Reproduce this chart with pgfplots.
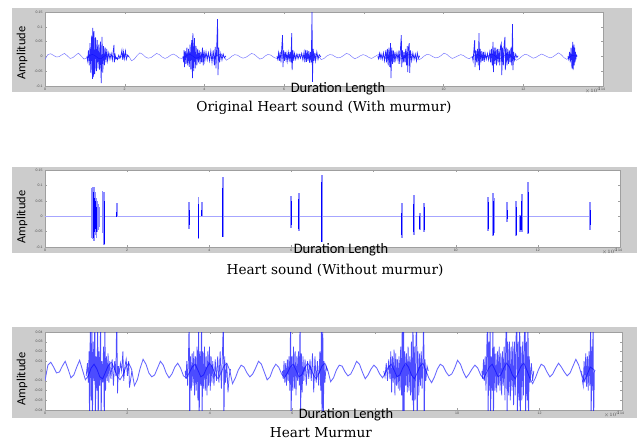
\documentclass[border=0pt]{standalone}
\usepackage{pgfplots}
\usepackage{pgfplotstable}
\pgfplotsset{compat=1.18}
\usepackage{fontspec}
\setmainfont{DejaVu Serif}
\newfontfamily\carl{Carlito}
\newfontfamily\lib{Liberation Sans}
\definecolor{figgray}{RGB}{204,204,204}

\pgfplotstableread{
x y
0.00 -0.010
0.07 0.006
0.14 0.009
0.21 0.004
0.28 -0.002
0.35 -0.001
0.42 0.005
0.49 0.010
0.56 0.002
0.63 -0.007
0.70 -0.004
0.77 0.004
0.84 0.011
0.91 0.001
0.98 -0.009
1.05 -0.005
1.12 0.003
1.19 0.007
1.26 0.002
1.33 -0.006
1.40 -0.008
1.47 -0.001
1.54 0.006
1.61 0.009
1.68 0.003
1.75 -0.005
1.82 -0.009
1.89 -0.004
1.96 0.004
2.03 0.008
2.10 0.002
2.17 -0.015
2.24 -0.009
2.31 0.003
2.38 0.012
2.45 0.007
2.52 -0.002
2.59 -0.006
2.66 -0.004
2.73 0.003
2.80 0.010
2.87 0.006
2.94 -0.002
3.01 -0.007
3.08 -0.003
3.15 0.004
3.22 0.008
3.29 0.003
3.36 -0.005
3.43 -0.007
3.50 -0.002
3.57 0.004
3.64 0.007
3.71 0.001
3.78 -0.006
3.85 -0.004
3.92 0.003
3.99 0.008
4.06 0.004
4.13 -0.004
4.20 -0.008
4.27 -0.002
4.34 0.005
4.41 0.008
4.48 0.001
4.55 -0.013
4.62 -0.007
4.69 0.001
4.76 0.006
4.83 0.004
4.90 -0.002
4.97 -0.006
5.04 -0.003
5.11 0.003
5.18 0.010
5.25 0.007
5.32 -0.001
5.39 -0.009
5.46 -0.006
5.53 0.002
5.60 0.007
5.67 0.004
5.74 -0.003
5.81 -0.007
5.88 -0.002
5.95 0.004
6.02 0.007
6.09 0.001
6.16 -0.006
6.23 -0.004
6.30 0.003
6.37 0.008
6.44 0.004
6.51 -0.004
6.58 -0.008
6.65 -0.002
6.72 0.005
6.79 0.008
6.86 0.001
6.93 -0.011
7.00 -0.007
7.07 0.001
7.14 0.006
7.21 0.005
7.28 -0.001
7.35 -0.005
7.42 -0.003
7.49 0.003
7.56 0.010
7.63 0.007
7.70 -0.001
7.77 -0.008
7.84 -0.004
7.91 0.002
7.98 0.006
8.05 0.003
8.12 -0.003
8.19 -0.007
8.26 -0.002
8.33 0.004
8.40 0.007
8.47 0.001
8.54 -0.006
8.61 -0.004
8.68 0.003
8.75 0.008
8.82 0.004
8.89 -0.004
8.96 -0.008
9.03 -0.002
9.10 0.005
9.17 0.008
9.24 0.001
9.31 -0.007
9.38 -0.012
9.45 -0.006
9.52 0.002
9.59 0.007
9.66 0.005
9.73 -0.001
9.80 -0.005
9.87 -0.003
9.94 0.003
10.01 0.011
10.08 0.007
10.15 -0.001
10.22 -0.007
10.29 -0.003
10.36 0.002
10.43 0.006
10.50 0.003
10.57 -0.004
10.64 -0.008
10.71 -0.002
10.78 0.004
10.85 0.007
10.92 0.001
10.99 -0.006
11.06 -0.004
11.13 0.003
11.20 0.008
11.27 0.004
11.34 -0.004
11.41 -0.008
11.48 -0.002
11.55 0.005
11.62 0.008
11.69 0.001
11.76 -0.007
11.83 -0.013
11.90 -0.007
11.97 0.001
12.04 0.007
12.11 0.005
12.18 -0.001
12.25 -0.006
12.32 -0.003
12.39 0.003
12.46 0.008
12.53 0.004
12.60 -0.001
12.67 -0.005
12.74 -0.002
12.81 0.005
12.88 0.012
12.95 0.006
13.02 -0.004
13.09 -0.010
13.16 -0.003
13.23 0.004
13.30 0.002
13.35 0.000
}\baseline

\pgfplotsset{
  panel/.style={
    scale only axis, anchor=north west,
    xmin=0, xmax=14, xtick={0,2,4,6,8,10,12,14},
    xticklabels={0,2,4,6,,10,12,14},
    tick align=inside, xtick pos=both, ytick pos=both,
    major tick length=2bp,
    axis line style={gray!75}, tick style={gray!75, line width=0.3pt},
    ticklabel style={font=\lib\fontsize{3.5}{4}\selectfont, text=gray!60!black},
    /pgf/number format/assume math mode=true,
    scaled y ticks=false,
    yticklabel style={/pgf/number format/fixed, /pgf/number format/precision=3, xshift=1bp},
    xticklabel style={yshift=1bp},
    axis background/.style={fill=white},
  },
  base/.style={no markers, line width=0.45pt, color=blue!55},
  burst/.style={no markers, line width=0.7pt, color=blue, opacity=0.85},
  mburst/.style={no markers, line width=0.75pt, color=blue, opacity=0.7},
  light/.style={ycomb, no markers, line width=1.6pt, color=blue!45},
  dark/.style={ycomb, no markers, line width=1.0pt, color=blue},
}

\begin{document}
\begin{tikzpicture}
\useasboundingbox (0,0) rectangle (637bp,-441bp);
\fill[figgray] (12bp,-8bp) rectangle (632bp,-92bp);
\fill[figgray] (12bp,-167bp) rectangle (637bp,-253bp);
\fill[figgray] (12bp,-327bp) rectangle (637bp,-418bp);

% ---------------- Panel 1 ----------------
\begin{axis}[panel, at={(45bp,-12bp)}, width=558bp, height=74bp,
  ymin=-0.1, ymax=0.15, ytick={-0.1,-0.05,0,0.05,0.1,0.15}]
\addplot[base] table {\baseline};
\addplot[burst] coordinates {(1.05,0.000)(1.07,-0.015)(1.09,0.020)(1.11,-0.030)(1.13,0.045)(1.15,-0.055)(1.17,0.070)(1.19,-0.076)(1.20,0.096)(1.22,-0.070)(1.23,0.085)(1.25,-0.060)(1.27,0.065)(1.29,-0.050)(1.31,0.055)(1.33,-0.040)(1.35,0.040)(1.37,-0.045)(1.39,0.050)(1.41,-0.090)(1.43,0.066)(1.45,-0.055)(1.47,0.035)(1.49,-0.030)(1.51,0.030)(1.53,-0.020)(1.55,0.025)(1.57,-0.015)(1.60,0.012)(1.63,-0.010)(1.66,0.010)(1.69,-0.012)(1.71,0.015)(1.73,0.039)(1.74,-0.020)(1.76,0.005)(1.78,-0.008)(1.80,-0.004)(1.82,-0.010)(1.85,0.004)(1.88,-0.006)(1.91,0.006)(1.93,0.021)(1.95,-0.012)(1.97,0.015)(1.99,-0.008)(2.02,0.018)(2.04,-0.010)(2.07,0.004)(2.10,-0.002)};
\addplot[burst] coordinates {(3.46,0.000)(3.48,-0.020)(3.49,0.021)(3.50,-0.036)(3.52,0.018)(3.54,-0.025)(3.56,0.030)(3.58,-0.030)(3.60,0.025)(3.62,-0.035)(3.64,0.040)(3.66,-0.045)(3.68,0.055)(3.70,-0.073)(3.71,0.079)(3.73,-0.050)(3.75,0.062)(3.77,-0.040)(3.79,0.035)(3.81,-0.030)(3.83,0.025)(3.85,-0.020)(3.87,0.020)(3.89,-0.025)(3.91,0.015)(3.93,-0.020)(3.95,0.030)(3.97,-0.030)(3.99,0.020)(4.01,-0.015)(4.04,0.015)(4.07,-0.012)(4.10,0.012)(4.13,-0.015)(4.16,0.018)(4.19,-0.020)(4.22,0.020)(4.25,-0.030)(4.27,0.032)(4.29,-0.040)(4.31,0.040)(4.33,0.126)(4.34,-0.063)(4.36,0.030)(4.38,-0.020)(4.41,0.010)(4.44,-0.012)(4.47,0.008)(4.50,-0.005)(4.54,0.002)};
\addplot[burst] coordinates {(5.82,0.000)(5.84,-0.010)(5.86,0.012)(5.88,-0.015)(5.90,0.015)(5.92,-0.020)(5.94,0.030)(5.96,0.072)(5.97,-0.036)(5.99,0.020)(6.01,-0.015)(6.03,0.015)(6.05,-0.012)(6.07,0.010)(6.09,-0.015)(6.11,0.012)(6.13,-0.010)(6.15,0.015)(6.17,-0.020)(6.19,0.079)(6.20,-0.046)(6.22,0.020)(6.24,-0.015)(6.26,0.010)(6.29,-0.010)(6.32,0.008)(6.35,-0.008)(6.38,0.006)(6.41,-0.006)(6.44,0.010)(6.47,-0.012)(6.50,0.015)(6.52,-0.020)(6.54,0.022)(6.56,-0.018)(6.58,0.020)(6.60,-0.015)(6.62,0.018)(6.64,-0.022)(6.66,0.015)(6.68,-0.020)(6.70,0.150)(6.71,-0.086)(6.73,0.025)(6.75,-0.015)(6.77,0.012)(6.79,-0.015)(6.82,0.015)(6.85,-0.010)(6.88,0.006)(6.92,-0.002)};
\addplot[burst] coordinates {(8.35,0.000)(8.37,-0.008)(8.39,0.010)(8.41,-0.006)(8.43,0.008)(8.46,-0.010)(8.49,0.012)(8.52,-0.015)(8.55,0.020)(8.57,-0.020)(8.59,0.025)(8.61,-0.030)(8.63,0.030)(8.65,-0.035)(8.67,0.045)(8.68,-0.073)(8.70,0.030)(8.72,-0.025)(8.74,0.020)(8.76,-0.020)(8.78,0.015)(8.80,-0.012)(8.83,0.012)(8.86,-0.015)(8.88,0.020)(8.90,-0.025)(8.92,0.030)(8.94,0.072)(8.95,-0.036)(8.97,0.020)(8.99,-0.020)(9.01,0.015)(9.03,-0.020)(9.05,0.025)(9.07,-0.030)(9.09,0.035)(9.10,-0.053)(9.12,0.030)(9.14,0.045)(9.15,-0.056)(9.17,0.020)(9.20,-0.015)(9.23,0.012)(9.26,-0.010)(9.29,0.008)(9.32,-0.015)(9.34,0.012)(9.37,-0.006)(9.40,0.002)};
\addplot[burst] coordinates {(10.72,0.000)(10.74,-0.015)(10.76,0.020)(10.78,0.055)(10.79,-0.036)(10.81,0.020)(10.83,-0.020)(10.85,0.025)(10.87,-0.030)(10.89,0.079)(10.90,-0.046)(10.92,0.025)(10.94,-0.020)(10.96,0.018)(10.98,-0.015)(11.00,0.015)(11.02,-0.018)(11.04,0.012)(11.07,-0.010)(11.10,0.010)(11.13,-0.012)(11.16,0.015)(11.18,-0.020)(11.20,0.025)(11.22,-0.030)(11.24,0.049)(11.25,-0.053)(11.27,0.030)(11.29,-0.025)(11.31,0.030)(11.33,-0.030)(11.35,0.025)(11.37,-0.020)(11.39,0.025)(11.41,-0.030)(11.43,0.035)(11.45,0.045)(11.46,-0.063)(11.48,0.030)(11.50,-0.030)(11.52,0.040)(11.54,0.066)(11.55,-0.046)(11.57,0.030)(11.59,-0.030)(11.61,0.025)(11.63,-0.025)(11.65,0.020)(11.67,-0.020)(11.69,0.030)(11.71,-0.030)(11.73,0.109)(11.74,-0.046)(11.76,0.015)(11.78,-0.012)(11.81,0.008)(11.84,-0.004)(11.87,0.002)};
\addplot[burst] coordinates {(13.12,0.000)(13.14,-0.010)(13.16,0.015)(13.18,-0.020)(13.20,0.030)(13.22,-0.040)(13.24,0.049)(13.25,-0.046)(13.27,0.040)(13.28,-0.030)(13.29,0.030)(13.30,-0.020)(13.31,0.015)(13.32,-0.010)(13.33,0.005)(13.35,0.000)};
\end{axis}

% ---------------- Panel 2 ----------------
\begin{axis}[panel, at={(45bp,-170bp)}, width=575bp, height=77bp,
  ymin=-0.1, ymax=0.15, ytick={-0.1,-0.05,0,0.05,0.1,0.15}]
\addplot[no markers, line width=0.45pt, color=blue!35] coordinates {(0,0)(13.30,0)};
\addplot[light] coordinates {(1.15,0.090)(1.15,-0.070)(1.17,0.094)(1.17,-0.075)(1.19,0.096)(1.19,-0.079)(1.21,0.085)(1.21,-0.065)(1.23,0.080)(1.23,-0.060)(1.25,0.060)(1.25,-0.070)(1.27,0.050)(1.27,-0.050)(1.29,0.040)(1.29,-0.045)(1.31,0.030)(1.31,-0.035)(1.40,0.082)(1.40,-0.055)(1.44,0.080)(1.44,-0.094)(1.75,0.043)(3.51,0.046)(3.51,-0.042)(3.74,0.062)(3.74,-0.074)(3.82,0.046)(4.33,0.127)(4.33,-0.068)(5.99,0.066)(5.99,-0.038)(6.18,0.075)(6.18,-0.048)(6.74,0.135)(6.74,-0.084)(8.69,0.043)(8.69,-0.071)(8.98,0.069)(8.98,-0.061)(9.13,0.010)(9.13,-0.045)(9.23,0.043)(9.23,-0.051)(10.79,0.062)(10.79,-0.048)(10.91,0.075)(10.91,-0.064)(10.93,0.059)(10.93,-0.055)(11.25,0.046)(11.25,-0.019)(11.47,0.049)(11.47,-0.064)(11.57,0.004)(11.57,-0.051)(11.61,0.072)(11.61,-0.051)(11.76,0.111)(11.76,-0.058)(13.27,0.046)(13.27,-0.045)};
\addplot[dark] coordinates {(1.17,0.070)(1.17,-0.060)(1.19,0.080)(1.19,-0.070)(1.21,0.060)(1.21,-0.050)(1.23,0.050)(1.23,-0.040)(1.25,0.030)(1.25,-0.050)(1.44,0.050)(1.44,-0.090)(1.75,0.015)(1.75,-0.003)(3.51,0.020)(3.51,-0.030)(3.74,0.040)(3.74,-0.070)(3.82,0.020)(4.33,0.090)(4.33,-0.068)(5.99,0.050)(5.99,-0.030)(6.18,0.055)(6.18,-0.040)(6.74,0.110)(6.74,-0.084)(8.69,0.010)(8.69,-0.060)(8.98,0.040)(8.98,-0.050)(9.13,-0.040)(9.23,0.030)(9.23,-0.045)(10.79,0.045)(10.79,-0.040)(10.91,0.050)(10.91,-0.060)(10.93,0.040)(10.93,-0.050)(11.25,0.020)(11.25,-0.010)(11.47,0.030)(11.47,-0.060)(11.57,-0.045)(11.61,0.050)(11.61,-0.045)(11.76,0.080)(11.76,-0.055)(13.27,0.020)(13.27,-0.030)};
\end{axis}

% ---------------- Panel 3 ----------------
\begin{axis}[panel, at={(45bp,-332bp)}, width=577bp, height=78bp,
  ymin=-0.04, ymax=0.04, ytick={-0.04,-0.03,-0.02,-0.01,0,0.01,0.02,0.03,0.04}]
\addplot[no markers, line width=0.85pt, color=blue!60] table {\baseline};
\addplot[mburst] coordinates {(1.00,-0.005)(1.03,0.008)(1.05,-0.012)(1.07,0.020)(1.08,-0.060)(1.10,0.060)(1.12,-0.030)(1.14,0.060)(1.15,-0.060)(1.17,0.030)(1.19,-0.010)(1.21,0.060)(1.22,-0.060)(1.24,0.015)(1.26,-0.020)(1.28,0.060)(1.29,-0.060)(1.31,0.020)(1.33,-0.015)(1.35,0.060)(1.36,-0.060)(1.38,0.010)(1.40,-0.012)(1.42,0.025)(1.44,-0.060)(1.45,0.060)(1.47,-0.020)(1.49,0.015)(1.51,-0.010)(1.53,0.018)(1.55,-0.012)(1.57,0.010)(1.60,-0.008)(1.63,0.012)(1.66,-0.015)(1.69,0.010)(1.72,-0.005)(1.74,0.060)(1.76,-0.023)(1.78,0.005)(1.80,-0.003)(1.83,0.008)(1.86,0.000)(1.89,0.020)(1.91,-0.010)(1.94,0.005)(1.97,0.012)(2.00,-0.005)(2.03,0.010)(2.05,-0.017)(2.08,-0.008)(2.11,0.000)};
\addplot[mburst] coordinates {(3.40,0.000)(3.42,-0.008)(3.44,0.010)(3.46,-0.015)(3.48,0.012)(3.50,0.060)(3.51,-0.060)(3.53,0.015)(3.55,-0.020)(3.57,0.018)(3.59,-0.015)(3.61,0.020)(3.63,-0.025)(3.65,0.015)(3.67,-0.020)(3.69,0.025)(3.71,-0.030)(3.73,0.060)(3.74,-0.060)(3.76,0.020)(3.78,-0.015)(3.80,0.060)(3.81,-0.060)(3.83,0.020)(3.85,-0.018)(3.87,0.025)(3.89,-0.020)(3.91,0.015)(3.93,-0.025)(3.95,0.020)(3.97,-0.015)(3.99,0.025)(4.01,-0.020)(4.03,0.015)(4.05,-0.012)(4.07,0.010)(4.10,-0.015)(4.13,0.012)(4.16,-0.010)(4.19,0.015)(4.22,-0.012)(4.25,0.020)(4.28,-0.018)(4.31,0.025)(4.33,0.060)(4.34,-0.060)(4.36,0.015)(4.38,-0.012)(4.41,0.008)(4.44,-0.022)(4.47,-0.005)(4.50,0.002)};
\addplot[mburst] coordinates {(5.76,0.000)(5.78,-0.008)(5.80,0.010)(5.82,-0.012)(5.84,0.008)(5.86,-0.015)(5.88,0.012)(5.90,-0.010)(5.92,0.015)(5.94,-0.020)(5.96,0.060)(5.97,-0.060)(5.99,0.015)(6.01,-0.020)(6.03,0.025)(6.05,-0.018)(6.07,0.020)(6.09,-0.025)(6.11,0.015)(6.13,-0.010)(6.15,0.020)(6.17,-0.015)(6.19,0.060)(6.20,-0.060)(6.22,0.018)(6.24,-0.022)(6.26,0.015)(6.28,-0.010)(6.31,0.012)(6.34,-0.015)(6.37,0.010)(6.40,-0.008)(6.43,0.012)(6.46,-0.010)(6.49,0.018)(6.52,-0.022)(6.55,0.015)(6.58,-0.012)(6.61,0.010)(6.64,-0.015)(6.67,0.020)(6.69,-0.020)(6.71,0.060)(6.72,-0.060)(6.74,0.060)(6.75,-0.060)(6.77,0.010)(6.79,-0.012)(6.82,0.005)(6.85,0.000)};
\addplot[mburst] coordinates {(8.22,0.000)(8.25,-0.006)(8.28,0.008)(8.31,-0.010)(8.34,0.012)(8.37,-0.008)(8.39,0.020)(8.41,-0.022)(8.43,0.015)(8.45,-0.012)(8.47,0.022)(8.49,-0.025)(8.51,0.018)(8.53,-0.015)(8.55,0.012)(8.57,-0.018)(8.59,0.015)(8.61,-0.020)(8.63,0.025)(8.65,-0.025)(8.67,0.060)(8.68,-0.060)(8.70,0.060)(8.71,-0.060)(8.73,0.020)(8.75,-0.015)(8.77,0.018)(8.79,-0.022)(8.81,0.025)(8.83,-0.020)(8.85,0.015)(8.87,-0.025)(8.89,0.030)(8.91,-0.030)(8.93,0.060)(8.94,-0.060)(8.96,0.025)(8.98,-0.030)(9.00,0.030)(9.02,0.060)(9.03,-0.060)(9.05,0.020)(9.07,-0.025)(9.09,0.018)(9.11,-0.015)(9.13,0.020)(9.15,-0.018)(9.17,0.015)(9.19,0.060)(9.20,-0.060)(9.22,0.012)(9.24,-0.010)(9.27,0.005)(9.30,0.000)};
\addplot[mburst] coordinates {(10.60,0.000)(10.62,-0.008)(10.64,0.012)(10.66,-0.010)(10.68,0.015)(10.70,-0.020)(10.72,0.025)(10.74,0.060)(10.75,-0.060)(10.77,0.030)(10.79,-0.020)(10.80,0.060)(10.81,-0.060)(10.83,0.015)(10.85,-0.020)(10.87,0.060)(10.88,-0.060)(10.90,0.025)(10.92,-0.020)(10.94,0.018)(10.96,-0.022)(10.98,0.020)(11.00,-0.015)(11.02,0.025)(11.04,-0.020)(11.06,0.018)(11.08,-0.025)(11.10,0.020)(11.12,-0.015)(11.14,0.025)(11.16,-0.030)(11.18,0.030)(11.20,0.060)(11.21,-0.060)(11.23,0.030)(11.25,-0.025)(11.27,0.030)(11.29,-0.030)(11.31,0.025)(11.33,-0.020)(11.35,0.030)(11.37,-0.035)(11.39,0.030)(11.41,-0.025)(11.43,0.035)(11.45,0.060)(11.46,-0.060)(11.48,0.030)(11.50,-0.030)(11.52,0.060)(11.53,-0.060)(11.55,0.025)(11.57,-0.030)(11.59,0.030)(11.61,-0.025)(11.63,0.035)(11.65,0.060)(11.66,-0.060)(11.68,0.030)(11.70,-0.030)(11.72,0.060)(11.73,-0.060)(11.75,0.015)(11.77,-0.012)(11.80,0.008)(11.83,-0.010)(11.86,0.000)};
\addplot[mburst] coordinates {(13.02,0.000)(13.04,-0.010)(13.06,-0.015)(13.08,0.010)(13.10,-0.012)(13.12,0.018)(13.14,-0.016)(13.16,0.015)(13.18,-0.020)(13.20,0.020)(13.22,-0.015)(13.24,0.060)(13.25,-0.060)(13.27,0.025)(13.28,-0.020)(13.30,0.060)(13.31,-0.060)(13.33,0.000)};
\end{axis}

% ---------------- Labels ----------------
\node[rotate=90, font=\carl\fontsize{12.5}{13}\selectfont] at (22bp,-53bp) {Amplitude};
\node[rotate=90, font=\carl\fontsize{12.5}{13}\selectfont] at (22bp,-217bp) {Amplitude};
\node[rotate=90, font=\carl\fontsize{12.5}{13}\selectfont] at (22bp,-379bp) {Amplitude};
\node[font=\carl\fontsize{14.5}{15}\selectfont, inner sep=0pt] at (338bp,-89bp) {Duration Length};
\node[font=\carl\fontsize{14.5}{15}\selectfont, inner sep=0pt] at (341bp,-249.5bp) {Duration Length};
\node[font=\carl\fontsize{14.5}{15}\selectfont, inner sep=0pt] at (346bp,-414.5bp) {Duration Length};
\node[font=\lib\fontsize{3.5}{4}\selectfont, text=gray!60!black] at (593bp,-90bp) {$\times10^{4}$};
\node[font=\lib\fontsize{3.5}{4}\selectfont, text=gray!60!black] at (610bp,-251bp) {$\times10^{4}$};
\node[font=\lib\fontsize{3.5}{4}\selectfont, text=gray!60!black] at (612bp,-414bp) {$\times10^{4}$};
\node[font=\fontsize{13.7}{14}\selectfont] at (324bp,-108bp) {Original Heart sound (With murmur)};
\node[font=\fontsize{13.7}{14}\selectfont] at (335bp,-270bp) {Heart sound (Without murmur)};
\node[font=\fontsize{13.7}{14}\selectfont] at (321bp,-433bp) {Heart Murmur};
\end{tikzpicture}
\end{document}
